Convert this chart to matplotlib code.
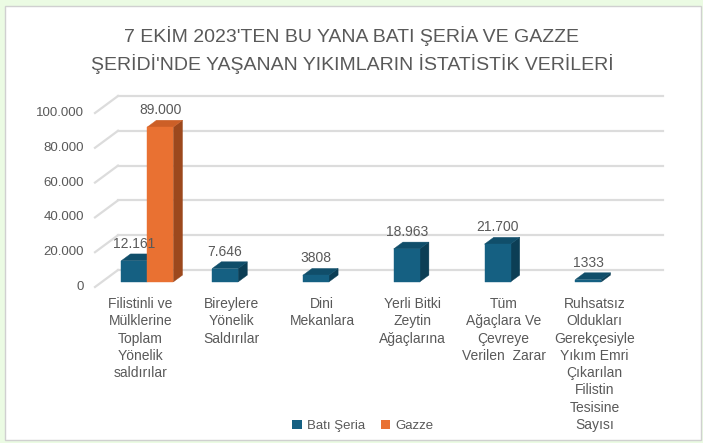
import matplotlib
matplotlib.use("Agg")
import matplotlib.pyplot as plt
from matplotlib.patches import Polygon, Rectangle, Patch

# --- data -----------------------------------------------------------------
categories = [
    "Filistinli ve\nMülklerine\nToplam\nYönelik\nsaldırılar",
    "Bireylere\nYönelik\nSaldırılar",
    "Dini\nMekanlara",
    "Yerli Bitki\nZeytin\nAğaçlarına",
    "Tüm\nAğaçlara Ve\nÇevreye\nVerilen  Zarar",
    "Ruhsatsız\nOldukları\nGerekçesiyle\nYıkım Emri\nÇıkarılan\nFilistin\nTesisine\nSayısı",
]
bati_values = [12161, 7646, 3808, 18963, 21700, 1333]
bati_labels = ["12.161", "7.646", "3808", "18.963", "21.700", "1333"]
gazze_values = [89000, 0, 0, 0, 0, 0]
gazze_labels = ["89.000", "", "", "", "", ""]
y_ticks = [0, 20000, 40000, 60000, 80000, 100000]
y_tick_labels = ["0", "20.000", "40.000", "60.000", "80.000", "100.000"]
series_names = ["Batı Şeria", "Gazze"]

title = ("7 EKİM 2023'TEN BU YANA BATI ŞERİA VE GAZZE\n"
         "ŞERİDİ'NDE YAŞANAN YIKIMLARIN İSTATİSTİK VERİLERİ")

# colours: front, top, side
blue = ("#156082", "#104e6a", "#0c3e55")
orange = ("#e97132", "#cc5f27", "#9c481d")
grid_color = "#dcdcdc"
text_color = "#595959"

# --- fake 3d geometry (data units) -----------------------------------------
W, H = 703, 443
px_x = 90.8          # pixels per category
px_y = 1 / 574.7     # pixels per value unit
x0_px, y0_px = 95, 287
DX = 23 / px_x       # full floor depth in category units
DY = 17 / px_y       # full floor depth in value units
d0, d1 = 0.3, 0.7    # depth span of the bars
bar_w = 26 / px_x

plt.rcParams['font.family'] = ['Liberation Sans', 'DejaVu Sans']

fig = plt.figure(figsize=(W / 100, H / 100), dpi=100, facecolor="#ebfbe3")
fig.add_artist(Rectangle((5 / W, 3 / H), 696 / W, 434 / H, transform=fig.transFigure,
                         facecolor="white", edgecolor="#d0d0d0", linewidth=1, zorder=-5))

left_px, right_px, top_px, bot_px = 55, 695, 85, 300
ax = fig.add_axes([left_px / W, (H - bot_px) / H, (right_px - left_px) / W, (bot_px - top_px) / H])
ax.set_xlim((left_px - x0_px) / px_x, (right_px - x0_px) / px_x)
ax.set_ylim((y0_px - bot_px) / px_y, (y0_px - top_px) / px_y)
ax.axis("off")

n = len(categories)

# walls: back gridlines + diagonal side lines
for g, lab in zip(y_ticks, y_tick_labels):
    ax.plot([DX, n + DX], [g + DY, g + DY], color=grid_color, lw=1.6, zorder=1)
    ax.plot([0, DX], [g, g + DY], color=grid_color, lw=1.6, zorder=1)
    ax.text(-11 / px_x, g, lab, ha="right", va="center", fontsize=9.5, color=text_color)


def draw_bar(xl, v, cols, z):
    xs = xl + d0 * DX
    ys = d0 * DY
    xb = xl + d1 * DX
    yb = d1 * DY
    front = Rectangle((xs, ys), bar_w, v, facecolor=cols[0], edgecolor=cols[0], lw=0.3, zorder=z)
    top = Polygon([(xs, ys + v), (xs + bar_w, ys + v), (xb + bar_w, yb + v), (xb, yb + v)],
                  closed=True, facecolor=cols[1], edgecolor=cols[1], lw=0.3, zorder=z)
    side = Polygon([(xs + bar_w, ys), (xb + bar_w, yb), (xb + bar_w, yb + v), (xs + bar_w, ys + v)],
                   closed=True, facecolor=cols[2], edgecolor=cols[2], lw=0.3, zorder=z)
    for p in (side, top, front):
        ax.add_patch(p)


for i in range(n):
    c = i + 0.5
    draw_bar(c - bar_w, bati_values[i], blue, 3)
    if gazze_values[i] > 0:
        draw_bar(c, gazze_values[i], orange, 4)

# data labels
pad = 3 / px_y
for i in range(n):
    c = i + 0.5
    ax.text(c - bar_w / 2 + d0 * DX, bati_values[i] + d1 * DY + pad, bati_labels[i],
            ha="center", va="bottom", fontsize=10, color=text_color, zorder=6)
    if gazze_values[i] > 0:
        ax.text(c + bar_w / 2 + d0 * DX, gazze_values[i] + d1 * DY + pad, gazze_labels[i],
                ha="center", va="bottom", fontsize=10, color=text_color, zorder=6)

# category labels
for i, lab in enumerate(categories):
    ax.text(i + 0.5, -10 / px_y, lab, ha="center", va="top", fontsize=10,
            color=text_color, linespacing=1.3)

fig.text(352 / W, 1 - 50 / H, title, ha="center", va="center", fontsize=14,
         color=text_color, linespacing=1.45)

handles = [Patch(facecolor=blue[0]), Patch(facecolor=orange[0])]
fig.legend(handles, series_names, loc="center", bbox_to_anchor=(363 / W, 1 - 426 / H),
           ncol=2, frameon=False, fontsize=9.5, handlelength=0.7, handleheight=0.7,
           handletextpad=0.4, columnspacing=1.2, labelcolor=text_color)

fig.savefig("out.png", dpi=100, facecolor=fig.get_facecolor())
